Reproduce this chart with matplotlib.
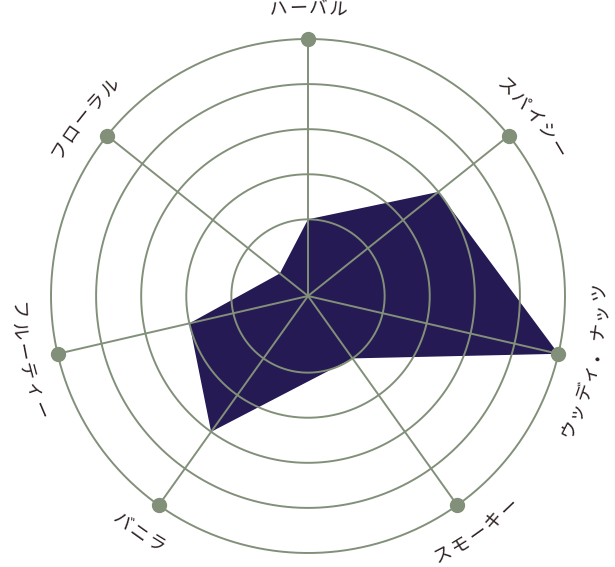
import numpy as np
import matplotlib
matplotlib.use("Agg")
import matplotlib.pyplot as plt

plt.rcParams['font.family'] = ['Noto Sans CJK JP', 'DejaVu Sans']

# flavour profile
labels = ["ハーバル", "スパイシー", "ウッディ・ナッツ", "スモーキー", "バニラ", "フルーティー", "フローラル"]
values = [1, 3, 5, 1, 3, 2, 0.1]
ring_levels = [1, 2, 3, 4, 5]
# axis directions, degrees clockwise from the top (bottom two are spread wider)
axis_deg = [0, 51.4, 103, 144.5, 215.5, 257, 308.6]

grid_color = "#82907a"
fill_color = "#251a53"
text_color = "#2b1f1f"

n = len(labels)
angles = np.radians(axis_deg)

R_PX = 257.0          # outer ring radius in pixels
R_MIN, R_MAX = -0.7, 5


def px_to_r(px):
    return px / R_PX * (R_MAX - R_MIN) + R_MIN


fig = plt.figure(figsize=(6.15, 5.67), dpi=100)
# polar axes placed so the outer ring sits where the reference has it
ax = fig.add_axes([51 / 615, 14 / 567, 514 / 615, 514 / 567], projection="polar")
ax.set_theta_zero_location("N")
ax.set_theta_direction(-1)
ax.set_ylim(R_MIN, R_MAX)
ax.axis("off")

# data shape under the grid
ax.fill(np.append(angles, angles[0]), values + values[:1], color=fill_color, lw=0, zorder=1)

# rings and spokes
t = np.linspace(0, 2 * np.pi, 400)
for lv in ring_levels:
    ax.plot(t, np.full_like(t, lv), color=grid_color, lw=1.4, zorder=2, clip_on=False)
for a in angles:
    ax.plot([a, a], [R_MIN, R_MAX], color=grid_color, lw=1.4, zorder=2, clip_on=False)

ax.scatter(angles, [R_MAX] * n, s=100, color=grid_color, zorder=3, clip_on=False)

# labels set along the circle, one character at a time (spaced out a little)
lab_px = 290
step = 20.3 / lab_px
for phi0, lab in zip(axis_deg, labels):
    flipped = 90 < phi0 < 270
    base_px = lab_px + 7 if flipped else lab_px - 7
    k = len(lab)
    for i, ch in enumerate(lab):
        off = (i - (k - 1) / 2) * step
        phi = np.radians(phi0) + (-off if flipped else off)
        rot = 180 - np.degrees(phi) if flipped else -np.degrees(phi)
        ax.text(phi, px_to_r(base_px), ch, rotation=rot, rotation_mode="anchor",
                ha="center", va="baseline", fontsize=13, color=text_color, clip_on=False)

fig.savefig("out.png", dpi=100, facecolor="white")
